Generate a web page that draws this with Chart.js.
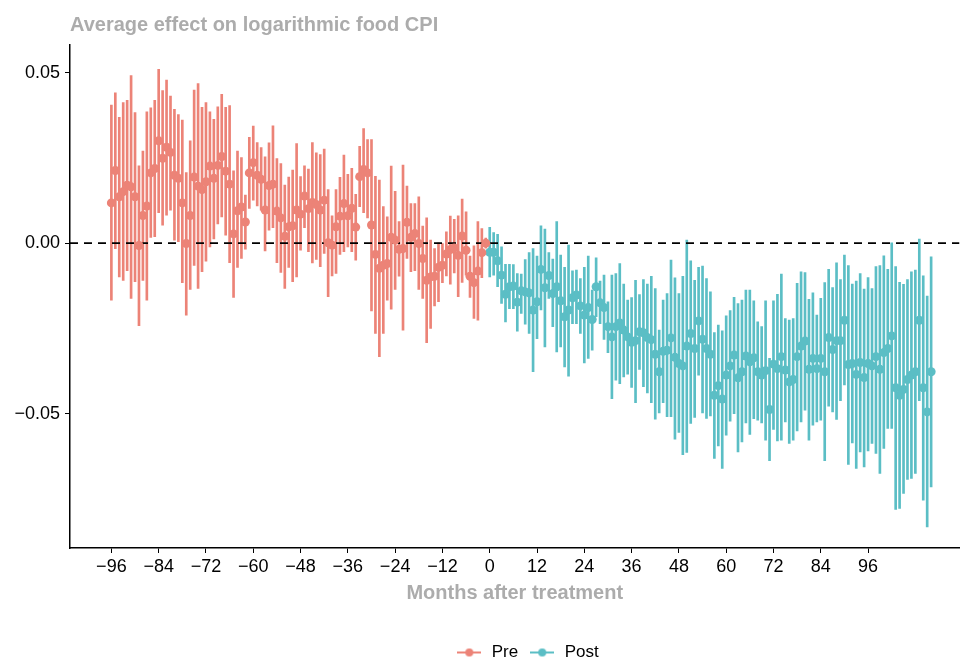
<!DOCTYPE html>
<html><head><meta charset="utf-8">
<script src="https://cdn.jsdelivr.net/npm/chart.js@4/dist/chart.umd.min.js"></script>
<style>html,body{margin:0;padding:0;background:#fff;} #wrap{width:964px;height:657px;position:relative;}</style>
</head><body><div id="wrap"><canvas id="c"></canvas></div>
<script>
const titleText = 'Average effect on logarithmic food CPI';
const xTitle = 'Months after treatment';
const seriesNames = ['Pre', 'Post'];
const PRE_START = -96;
const preEst = [0.0118,0.0213,0.0136,0.0151,0.0170,0.0165,0.0136,-0.0007,0.0081,0.0109,0.0206,0.0219,0.0300,0.0249,0.0281,0.0266,0.0199,0.0190,0.0118,-0.0001,0.0081,0.0194,0.0167,0.0157,0.0180,0.0226,0.0190,0.0228,0.0254,0.0211,0.0173,0.0027,0.0095,0.0106,0.0062,0.0206,0.0236,0.0199,0.0187,0.0097,0.0169,0.0173,0.0094,0.0074,0.0020,0.0048,0.0051,0.0097,0.0085,0.0138,0.0101,0.0119,0.0113,0.0097,0.0126,0.0001,-0.0006,0.0048,0.0079,0.0116,0.0080,0.0102,0.0047,0.0195,0.0216,0.0206,0.0053,-0.0033,-0.0074,-0.0065,-0.0060,0.0017,0.0009,-0.0018,-0.0016,0.0061,0.0017,0.0028,-0.0001,-0.0045,-0.0109,-0.0099,-0.0097,-0.0071,-0.0065,-0.0032,-0.0019,-0.0014,-0.0036,0.0021,-0.0021,-0.0097,-0.0116,-0.0082,-0.0028,0.0000];
const preHi = [0.0405,0.0441,0.0369,0.0412,0.0419,0.0491,0.0383,0.0227,0.0270,0.0385,0.0397,0.0419,0.0510,0.0447,0.0478,0.0431,0.0392,0.0377,0.0361,0.0207,0.0300,0.0449,0.0468,0.0398,0.0412,0.0385,0.0363,0.0400,0.0436,0.0398,0.0403,0.0212,0.0270,0.0251,0.0141,0.0310,0.0343,0.0295,0.0280,0.0253,0.0294,0.0344,0.0248,0.0233,0.0170,0.0194,0.0214,0.0292,0.0195,0.0227,0.0217,0.0295,0.0265,0.0260,0.0276,0.0157,0.0080,0.0157,0.0193,0.0258,0.0202,0.0219,0.0143,0.0284,0.0336,0.0304,0.0304,0.0196,0.0185,0.0107,0.0077,0.0226,0.0152,0.0063,0.0229,0.0167,0.0116,0.0116,0.0136,0.0050,0.0074,0.0009,-0.0016,0.0001,-0.0001,0.0033,0.0079,0.0070,0.0080,0.0129,0.0092,-0.0038,-0.0008,0.0063,0.0043,0.0015];
const preLo = [-0.0167,-0.0016,-0.0099,-0.0109,-0.0081,-0.0162,-0.0113,-0.0242,-0.0109,-0.0167,0.0017,0.0019,0.0089,0.0053,0.0082,0.0097,0.0009,0.0004,-0.0116,-0.0211,-0.0136,-0.0065,-0.0133,-0.0084,-0.0053,-0.0011,0.0012,0.0056,0.0077,0.0023,-0.0057,-0.0159,-0.0071,-0.0045,-0.0018,0.0102,0.0126,0.0109,0.0097,-0.0023,0.0038,0.0045,-0.0057,-0.0086,-0.0133,-0.0071,-0.0113,-0.0099,-0.0021,0.0045,-0.0025,-0.0058,-0.0048,-0.0069,-0.0030,-0.0157,-0.0096,-0.0089,-0.0033,-0.0025,-0.0011,-0.0025,-0.0050,0.0107,0.0089,0.0074,-0.0199,-0.0265,-0.0333,-0.0265,-0.0167,-0.0194,-0.0136,-0.0097,-0.0255,-0.0045,-0.0084,-0.0081,-0.0136,-0.0162,-0.0292,-0.0250,-0.0184,-0.0172,-0.0116,-0.0096,-0.0120,-0.0087,-0.0157,-0.0115,-0.0094,-0.0159,-0.0221,-0.0226,-0.0101,-0.0015];
const POST_START = 0;
const postEst = [-0.0027,-0.0027,-0.0052,-0.0094,-0.0150,-0.0128,-0.0126,-0.0173,-0.0140,-0.0143,-0.0146,-0.0196,-0.0172,-0.0077,-0.0131,-0.0095,-0.0148,-0.0128,-0.0169,-0.0216,-0.0196,-0.0160,-0.0152,-0.0184,-0.0211,-0.0189,-0.0224,-0.0128,-0.0175,-0.0189,-0.0245,-0.0275,-0.0245,-0.0234,-0.0255,-0.0275,-0.0291,-0.0286,-0.0260,-0.0263,-0.0277,-0.0283,-0.0326,-0.0377,-0.0317,-0.0314,-0.0278,-0.0335,-0.0353,-0.0360,-0.0302,-0.0265,-0.0309,-0.0228,-0.0282,-0.0309,-0.0326,-0.0446,-0.0418,-0.0457,-0.0387,-0.0360,-0.0328,-0.0395,-0.0377,-0.0331,-0.0348,-0.0336,-0.0377,-0.0387,-0.0374,-0.0488,-0.0355,-0.0368,-0.0333,-0.0372,-0.0407,-0.0400,-0.0333,-0.0302,-0.0287,-0.0370,-0.0338,-0.0368,-0.0338,-0.0377,-0.0277,-0.0312,-0.0286,-0.0286,-0.0226,-0.0356,-0.0353,-0.0385,-0.0350,-0.0394,-0.0353,-0.0360,-0.0333,-0.0370,-0.0321,-0.0309,-0.0272,-0.0424,-0.0446,-0.0429,-0.0400,-0.0387,-0.0377,-0.0226,-0.0424,-0.0495,-0.0377];
const postHi = [0.0046,0.0031,0.0026,-0.0011,-0.0062,-0.0062,-0.0063,-0.0089,-0.0091,-0.0048,-0.0028,-0.0016,-0.0038,0.0051,0.0041,-0.0028,-0.0047,0.0063,-0.0035,-0.0071,-0.0006,-0.0081,-0.0079,-0.0104,-0.0071,-0.0038,-0.0138,-0.0043,-0.0111,-0.0094,-0.0172,-0.0094,-0.0089,-0.0060,-0.0120,-0.0167,-0.0160,-0.0109,-0.0151,-0.0107,-0.0120,-0.0097,-0.0133,-0.0255,-0.0167,-0.0148,-0.0050,-0.0102,-0.0148,-0.0097,0.0009,-0.0052,-0.0109,-0.0071,-0.0067,-0.0104,-0.0143,-0.0262,-0.0240,-0.0257,-0.0213,-0.0198,-0.0159,-0.0177,-0.0167,-0.0138,-0.0138,-0.0169,-0.0231,-0.0245,-0.0169,-0.0338,-0.0169,-0.0150,-0.0091,-0.0221,-0.0226,-0.0221,-0.0118,-0.0084,-0.0086,-0.0165,-0.0146,-0.0211,-0.0162,-0.0116,-0.0077,-0.0130,-0.0058,-0.0107,-0.0035,-0.0066,-0.0120,-0.0111,-0.0089,-0.0135,-0.0101,-0.0133,-0.0069,-0.0066,-0.0037,-0.0077,0.0001,-0.0069,-0.0115,-0.0121,-0.0107,-0.0084,-0.0079,0.0012,-0.0096,-0.0155,-0.0040];
const postLo = [-0.0099,-0.0094,-0.0128,-0.0177,-0.0231,-0.0192,-0.0192,-0.0258,-0.0206,-0.0238,-0.0265,-0.0377,-0.0280,-0.0196,-0.0304,-0.0162,-0.0245,-0.0319,-0.0304,-0.0363,-0.0390,-0.0236,-0.0236,-0.0265,-0.0351,-0.0338,-0.0314,-0.0216,-0.0236,-0.0282,-0.0321,-0.0456,-0.0402,-0.0412,-0.0392,-0.0384,-0.0423,-0.0468,-0.0370,-0.0421,-0.0439,-0.0468,-0.0516,-0.0498,-0.0468,-0.0509,-0.0509,-0.0575,-0.0555,-0.0620,-0.0614,-0.0529,-0.0511,-0.0387,-0.0498,-0.0514,-0.0507,-0.0631,-0.0595,-0.0661,-0.0563,-0.0522,-0.0500,-0.0612,-0.0583,-0.0527,-0.0561,-0.0515,-0.0519,-0.0527,-0.0578,-0.0638,-0.0546,-0.0580,-0.0578,-0.0524,-0.0587,-0.0578,-0.0551,-0.0524,-0.0490,-0.0578,-0.0534,-0.0524,-0.0519,-0.0638,-0.0478,-0.0495,-0.0517,-0.0462,-0.0416,-0.0649,-0.0586,-0.0661,-0.0612,-0.0656,-0.0609,-0.0587,-0.0617,-0.0675,-0.0602,-0.0543,-0.0543,-0.0781,-0.0778,-0.0734,-0.0693,-0.0690,-0.0675,-0.0462,-0.0754,-0.0832,-0.0715];
const xTickValues = [-96,-84,-72,-60,-48,-36,-24,-12,0,12,24,36,48,60,72,84,96];
const yTickValues = [-0.05,0,0.05];

const PRE_COLOR = 'rgb(236,131,119)';
const POST_COLOR = 'rgb(91,190,197)';
const FONT = '"Liberation Sans", Arial, Helvetica, sans-serif';

const preMonths = preEst.map((_, i) => PRE_START + i);
const postMonths = postEst.map((_, i) => POST_START + i);
const pts = (ms, v) => ms.map((m, i) => ({x: m, y: v[i]}));
const bars = (ms, lo, hi) => ms.map((m, i) => ({x: m, y: [lo[i], hi[i]]}));
const minus = s => String(s).replace('-', '\u2212');

function legendSymbol(color) {
  const c = document.createElement('canvas');
  c.width = 24; c.height = 10;
  const g = c.getContext('2d');
  g.strokeStyle = color; g.lineWidth = 2;
  g.beginPath(); g.moveTo(0, 5); g.lineTo(24, 5); g.stroke();
  g.fillStyle = color; g.beginPath(); g.arc(12, 5, 4, 0, Math.PI * 2); g.fill();
  return c;
}

const titlePlugin = {
  id: 'topTitle',
  afterDraw(chart) {
    const ctx = chart.ctx;
    ctx.save();
    ctx.font = 'bold 20px ' + FONT;
    ctx.fillStyle = '#ACACAC';
    ctx.textAlign = 'left';
    ctx.textBaseline = 'alphabetic';
    ctx.fillText(titleText, chart.chartArea.left, 31);
    ctx.restore();
  }
};
const legendShift = {
  id: 'legendShift',
  afterLayout(chart) {
    const l = chart.legend;
    if (!l) return;
    l.left += 47; l.right += 47; l.top += 14; l.bottom += 14;
  }
};

new Chart(document.getElementById('c'), {
  type: 'scatter',
  data: {
    datasets: [
      {type: 'line', label: 'zero', data: [{x: -106.5, y: 0}, {x: 119.2, y: 0}], borderColor: '#000', borderWidth: 1.8, borderDash: [8, 6], pointRadius: 0, order: 1},
      {type: 'scatter', label: seriesNames[0], data: pts(preMonths, preEst), backgroundColor: PRE_COLOR, borderWidth: 0, pointRadius: 4.5, order: 0},
      {type: 'scatter', label: seriesNames[1], data: pts(postMonths, postEst), backgroundColor: POST_COLOR, borderWidth: 0, pointRadius: 4.5, order: 0},
      {type: 'bar', label: 'Pre CI', data: bars(preMonths, preLo, preHi), backgroundColor: PRE_COLOR, barThickness: 2, grouped: false, borderWidth: 0, order: 2},
      {type: 'bar', label: 'Post CI', data: bars(postMonths, postLo, postHi), backgroundColor: POST_COLOR, barThickness: 2, grouped: false, borderWidth: 0, order: 2}
    ]
  },
  options: {
    responsive: true,
    maintainAspectRatio: false,
    animation: false,
    events: [],
    layout: {padding: {top: 45, right: 4, left: 0, bottom: 0}},
    plugins: {
      tooltip: {enabled: false},
      title: {display: false},
      legend: {
        position: 'bottom',
        labels: {
          usePointStyle: true,
          pointStyleWidth: 28,
          padding: 10,
          color: '#000',
          font: {family: FONT, size: 17},
          generateLabels(chart) {
            return [1, 2].map(i => {
              const ds = chart.data.datasets[i];
              return {text: ds.label, pointStyle: legendSymbol(ds.backgroundColor), fillStyle: ds.backgroundColor, strokeStyle: ds.backgroundColor, lineWidth: 0, hidden: false, datasetIndex: i, fontColor: '#000'};
            });
          }
        }
      }
    },
    scales: {
      x: {
        type: 'linear', min: -106.5, max: 119.2, offset: false,
        afterBuildTicks(s) { s.ticks = xTickValues.map(v => ({value: v})); },
        afterFit(s) { s.height = 72; },
        ticks: {font: {family: FONT, size: 18}, color: '#000', padding: 3, maxRotation: 0, autoSkip: false, callback: v => minus(v)},
        grid: {display: true, offset: false, drawOnChartArea: false, drawTicks: true, tickLength: 5, color: '#000', lineWidth: 1},
        border: {display: true, color: '#000', width: 1.5},
        title: {display: true, text: xTitle, color: '#ACACAC', font: {family: FONT, size: 20, weight: 'bold'}, padding: {top: 4, bottom: 15}}
      },
      y: {
        type: 'linear', min: -0.0894, max: 0.0581,
        afterBuildTicks(s) { s.ticks = yTickValues.map(v => ({value: v})); },
        afterFit(s) { s.width = 70; },
        ticks: {font: {family: FONT, size: 18}, color: '#000', padding: 5, callback: v => minus(Number(v).toFixed(2))},
        grid: {display: true, offset: false, drawOnChartArea: false, drawTicks: true, tickLength: 5, color: '#000', lineWidth: 1},
        border: {display: true, color: '#000', width: 1.5}
      }
    }
  },
  plugins: [titlePlugin, legendShift]
});
</script>
</body></html>
